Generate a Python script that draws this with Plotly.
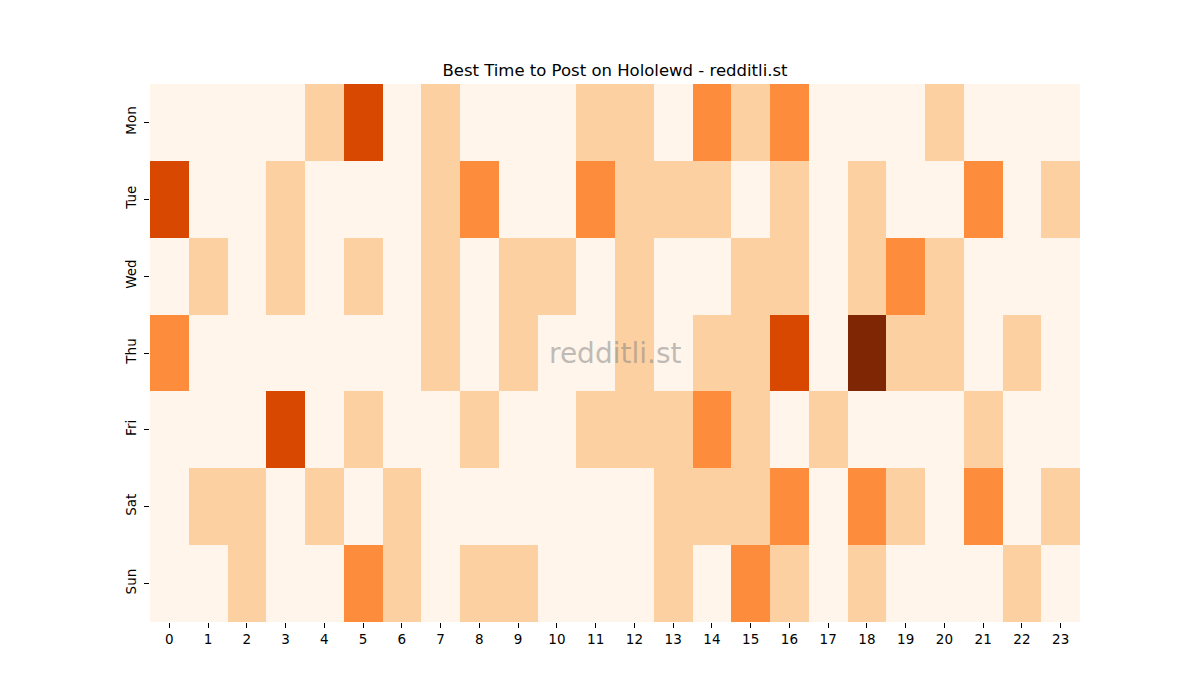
import plotly.graph_objects as go

hours = list(range(24))
days = ["Mon", "Tue", "Wed", "Thu", "Fri", "Sat", "Sun"]
mon = [0,0,0,0,1,3,0,1,0,0,0,1,1,0,2,1,2,0,0,0,1,0,0,0]
tue = [3,0,0,1,0,0,0,1,2,0,0,2,1,1,1,0,1,0,1,0,0,2,0,1]
wed = [0,1,0,1,0,1,0,1,0,1,1,0,1,0,0,1,1,0,1,2,1,0,0,0]
thu = [2,0,0,0,0,0,0,1,0,1,0,0,1,0,1,1,3,0,4,1,1,0,1,0]
fri = [0,0,0,3,0,1,0,0,1,0,0,1,1,1,2,1,0,1,0,0,0,1,0,0]
sat = [0,1,1,0,1,0,1,0,0,0,0,0,0,1,1,1,2,0,2,1,0,2,0,1]
sun = [0,0,1,0,0,2,1,0,1,1,0,0,0,1,0,2,1,0,1,0,0,0,1,0]
z = [mon, tue, wed, thu, fri, sat, sun]

colorscale = [
    [0.0, "#fff5eb"], [0.125, "#fee6ce"], [0.25, "#fdd0a2"], [0.375, "#fdae6b"],
    [0.5, "#fd8d3c"], [0.625, "#f16913"], [0.75, "#d94801"], [0.875, "#a63603"],
    [1.0, "#7f2704"],
]

fig = go.Figure(go.Heatmap(
    z=z, x=hours, y=days, colorscale=colorscale, zmin=0, zmax=4,
    showscale=False, hoverongaps=False,
))

fig.update_layout(
    width=1200, height=700,
    margin=dict(l=150, r=120, t=84, b=78),
    paper_bgcolor="white", plot_bgcolor="white",
    font=dict(family="DejaVu Sans", size=13, color="black"),
    title=dict(text="Best Time to Post on Hololewd - redditli.st",
               x=615/1200, xanchor="center", y=1-70/700, yanchor="middle",
               font=dict(size=16.5, color="black")),
    xaxis=dict(tickmode="array", tickvals=hours, ticktext=[str(h) for h in hours],
               ticks="outside", ticklen=5, tickcolor="black", showgrid=False,
               zeroline=False, showline=False, range=[-0.5, 23.5],
               tickfont=dict(size=13.5)),
    yaxis=dict(autorange="reversed", ticks="outside", ticklen=5, tickcolor="black",
               tickangle=-90, showgrid=False, zeroline=False, showline=False,
               ticklabelstandoff=3, tickfont=dict(size=13.5)),
    annotations=[dict(text="redditli.st", xref="paper", yref="paper", x=0.5, y=0.5,
                      showarrow=False, font=dict(size=28, color="rgba(128,128,128,0.5)"))],
)

fig.write_html("out.html")
